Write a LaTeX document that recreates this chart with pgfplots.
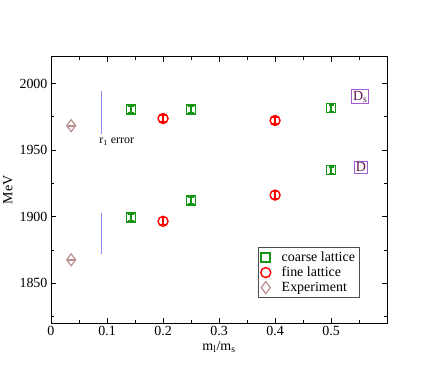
\documentclass[border=0pt]{standalone}
\usepackage{pgfplots}
\pgfplotsset{compat=1.18}
\usepackage{fontspec}
\setmainfont{Liberation Serif}

\definecolor{cgreen}{RGB}{20,150,20}
\definecolor{cred}{RGB}{255,0,0}
\definecolor{cbrown}{RGB}{188,143,143}
\definecolor{lavblue}{rgb}{0.55,0.55,1.0}
\definecolor{cviolet}{RGB}{160,90,210}
\definecolor{ctext}{RGB}{100,20,90}

\begin{document}
\begin{tikzpicture}[font=\fontsize{14}{15}\selectfont]
\begin{axis}[
  name=ax,
  scale only axis,
  width=337pt, height=267pt,
  xmin=0, xmax=0.6, ymin=1820, ymax=2020,
  xtick={0,0.1,0.2,0.3,0.4,0.5},
  xticklabels={0,0.1,0.2,0.3,0.4,0.5},
  ytick={1850,1900,1950,2000},
  minor xtick={0.05,0.15,0.25,0.35,0.45,0.55},
  minor ytick={1825,1875,1925,1975},
  tick align=inside,
  major tick length=5pt, minor tick length=3pt,
  axis line style={line width=0.9pt},
  every tick/.style={black, line width=0.8pt},
  /pgf/number format/assume math mode=true,
  scaled ticks=false,
  xticklabel style={/pgf/number format/.cd, fixed},
  yticklabel style={/pgf/number format/.cd, set thousands separator={}},
  xlabel={m\textsubscript{l}/m\textsubscript{s}},
  ylabel={MeV},
  xlabel style={yshift=2pt},
  legend style={at={(0.617,0.097)}, anchor=south west, draw=black!70,
    line width=0.8pt, font=\fontsize{14}{14}\selectfont,
    row sep=0pt, inner sep=2pt, cells={anchor=west},
    /tikz/every odd column/.append style={column sep=9pt}},
  legend cell align=left,
  clip=false,
]
% r1 error bars
\addplot[lavblue, line width=1.6pt, mark=none, forget plot] coordinates {(0.0905,1994) (0.0905,1962)};
\addplot[lavblue, line width=1.6pt, mark=none, forget plot] coordinates {(0.0905,1903) (0.0905,1872)};
% coarse lattice
\addplot[only marks, cgreen, mark=square, mark size=4.5pt, line width=1.7pt,
  error bars/.cd, y dir=both, y explicit,
  error bar style={line width=1.4pt}, error mark options={rotate=90, mark size=2.6pt, line width=1.4pt}]
  coordinates {
  (0.1429,1980.5) +- (0,2.4)
  (0.25,1980.5) +- (0,2.4)
  (0.5,1981.5) +- (0,2.4)
  (0.1429,1899.5) +- (0,2.4)
  (0.25,1912) +- (0,2.4)
  (0.5,1935) +- (0,2.4)
};
\addlegendentry{coarse lattice}
% fine lattice
\addplot[only marks, cred, mark=o, mark size=5pt, line width=1.4pt,
  error bars/.cd, y dir=both, y explicit,
  error bar style={line width=1.2pt}, error mark options={rotate=90, mark size=3pt, line width=1.2pt}]
  coordinates {
  (0.2,1973.7) +- (0,2.6)
  (0.4,1972.2) +- (0,2.6)
  (0.2,1896.5) +- (0,2.6)
  (0.4,1916.2) +- (0,2.6)
};
\addlegendentry{fine lattice}
% experiment
\addplot[only marks, cbrown, mark=diamond, mark size=6pt, line width=1.2pt,
  error bars/.cd, y dir=both, y explicit,
  error bar style={line width=1.2pt}, error mark options={rotate=90, mark size=3.5pt, line width=1.2pt}]
  coordinates {
  (0.036,1968.3) +- (0,0.4)
  (0.036,1867.6) +- (0,0.4)
};
\addlegendentry{Experiment}
\node[anchor=west, font=\fontsize{12}{13}\selectfont] at (axis cs:0.08,1956.5) {r\textsubscript{1} error};
\node[draw=cviolet, line width=0.9pt, text=ctext, inner sep=1.2pt] at (axis cs:0.552,1990) {D\textsubscript{s}};
\node[draw=cviolet, line width=0.9pt, text=ctext, inner sep=1.2pt] at (axis cs:0.553,1937) {D};
\end{axis}
\path ([shift={(-50pt,-58pt)}]ax.south west) rectangle ([shift={(49pt,57pt)}]ax.north east);
\end{tikzpicture}
\end{document}
